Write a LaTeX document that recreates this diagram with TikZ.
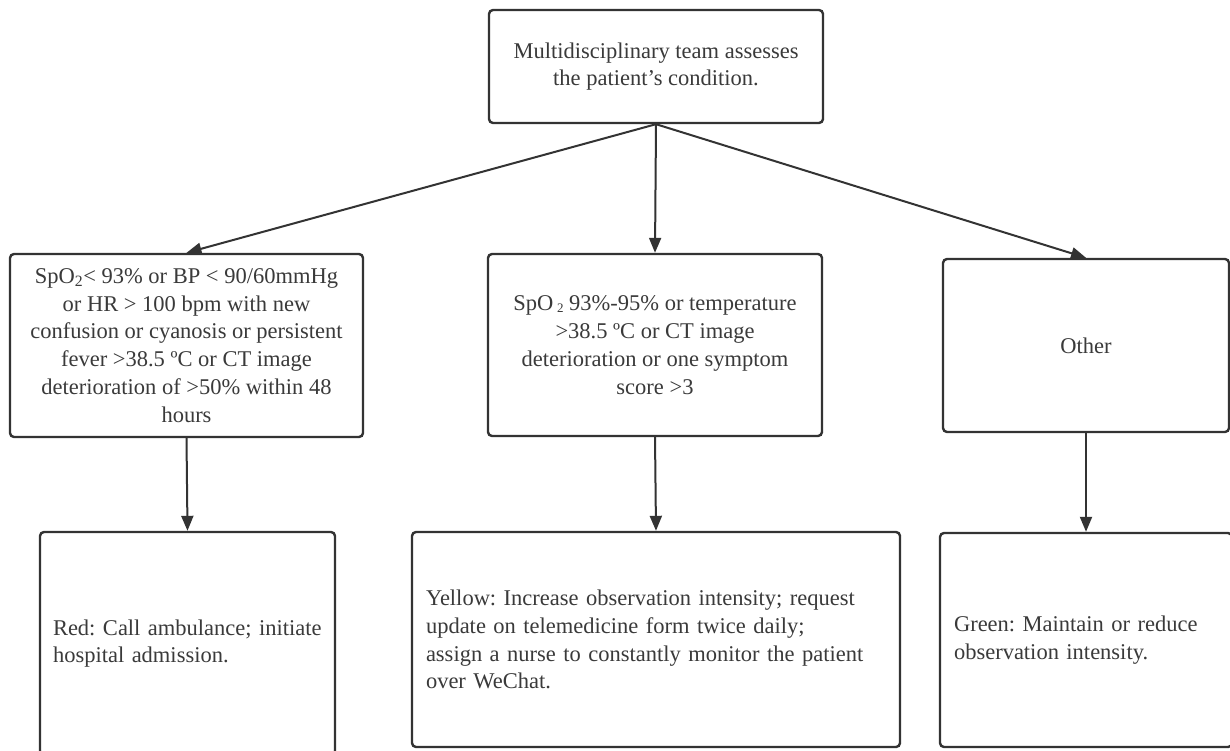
\documentclass[tikz,border=0pt]{standalone}
\usepackage{fontspec}
\setmainfont{Liberation Serif}
\usepackage{tikz}
\usetikzlibrary{arrows.meta, positioning}

\definecolor{linegray}{HTML}{333333}
\definecolor{textgray}{HTML}{3A3A3A}

\newcommand{\boxfont}{\fontsize{22.5}{27.8}\selectfont\frenchspacing\hyphenpenalty=10000\relax}

\tikzset{
    flowbox/.style={draw=linegray, line width=2.4pt, rounded corners=4pt,
        fill=white, text=textgray, inner sep=0pt, font=\boxfont},
    flowarrow/.style={draw=linegray, line width=2pt,
        -{Triangle[length=15pt, width=12pt]}}
}

\begin{document}
\begin{tikzpicture}[x=1pt, y=-1pt]
    \useasboundingbox (0,0) rectangle (1230,751);

    % Assessment
    \node[flowbox, minimum width=334pt, minimum height=113pt, align=center]
        (assess) at (656,66.5)
        {Multidisciplinary team assesses\\the patient’s condition.};

    % Criteria
    \node[flowbox, minimum width=353pt, minimum height=183pt, align=center]
        (critRed) at (186.5,345.5)
        {SpO\textsubscript{2}< 93\% or BP < 90/60mmHg\\
         or HR > 100 bpm with new\\
         confusion or cyanosis or persistent\\
         fever >38.5 ºC or CT image\\
         deterioration of >50\% within 48\\
         hours};
    \node[flowbox, minimum width=334pt, minimum height=182pt, align=center]
        (critYellow) at (655,345)
        {SpO\,\raisebox{-0.15ex}{\fontsize{13}{13}\selectfont 2} 93\%-95\% or temperature\\
         >38.5 ºC or CT image\\
         deterioration or one symptom\\
         score >3};
    \node[flowbox, minimum width=286pt, minimum height=173pt]
        (critGreen) at (1086,345.5) {Other};

    % Actions
    \node[flowbox, text width=269pt, inner xsep=13pt, minimum height=223pt, align=left]
        (actRed) at (187.5,643.5)
        {Red: Call ambulance; initiate\\hospital admission.};
    \node[flowbox, text width=460pt, inner xsep=14pt, minimum height=215pt, align=left]
        (actYellow) at (656,639.5)
        {Yellow: Increase observation intensity; request\\
         update on telemedicine form twice daily;\\
         assign a nurse to constantly monitor the patient\\
         over WeChat.};
    \node[flowbox, text width=264pt, inner xsep=14pt, minimum height=214pt, align=left]
        (actGreen) at (1086,640)
        {Green: Maintain or reduce\\observation intensity.};

    % Connectors
    \draw[flowarrow] (assess.south) -- (critRed.north);
    \draw[flowarrow] (assess.south) -- (critYellow.north);
    \draw[flowarrow] (assess.south) -- (critGreen.north);
    \draw[flowarrow] (critRed.south) -- (actRed.north);
    \draw[flowarrow] (critYellow.south) -- (actYellow.north);
    \draw[flowarrow] (critGreen.south) -- (actGreen.north);
\end{tikzpicture}
\end{document}
